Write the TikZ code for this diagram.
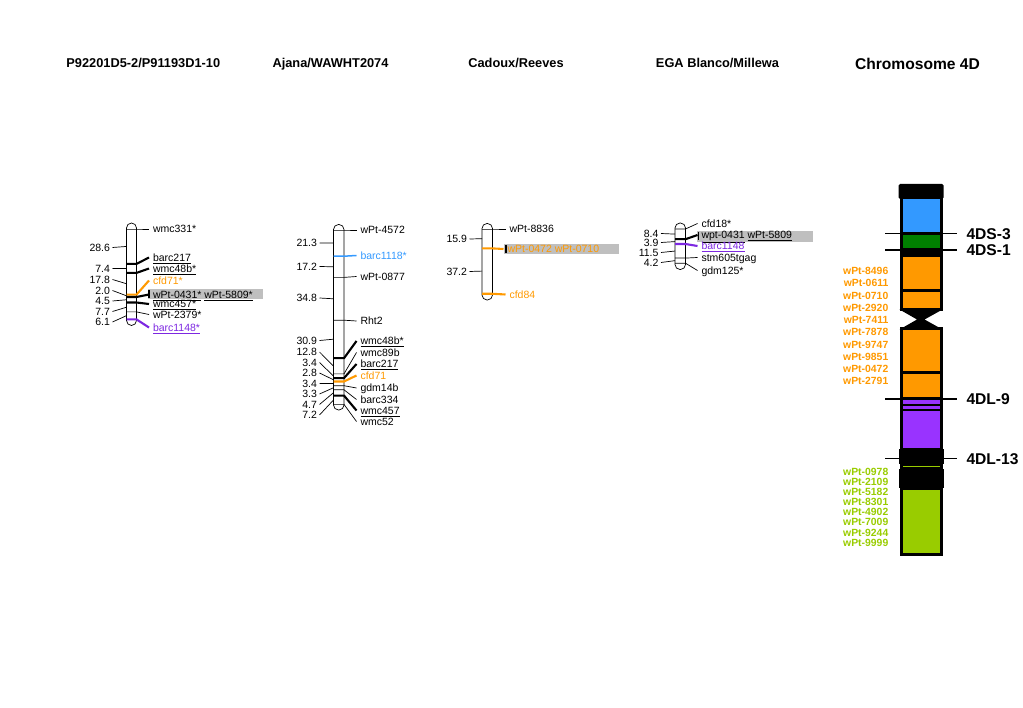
\documentclass[tikz,border=0pt]{standalone}
\usepackage{fontspec}
\setmainfont{Liberation Sans}
\usetikzlibrary{calc}
\definecolor{cOrange}{RGB}{255,153,0}
\definecolor{cBlue}{RGB}{51,153,255}
\definecolor{cGreen}{RGB}{0,128,0}
\definecolor{cPurple}{RGB}{153,51,255}
\definecolor{cLime}{RGB}{153,204,0}
\definecolor{mViolet}{RGB}{125,40,225}
\definecolor{boxgray}{RGB}{191,191,191}
\tikzset{
  lnk/.style={line width=0.7pt},
  mid/.style={line width=1.5pt},
  thk/.style={line width=2.1pt},
  mk/.style={anchor=west, inner sep=0pt, outer xsep=4pt, text height=7.5pt, text depth=0pt, font=\fontsize{10.5}{12}\selectfont},
  iv/.style={anchor=east, inner sep=0pt, outer xsep=2.5pt, text height=7.5pt, text depth=0pt, font=\fontsize{10.5}{12}\selectfont},
  hd/.style={anchor=base, inner sep=0pt, font=\fontsize{12.8}{15}\selectfont\bfseries},
  cl/.style={anchor=east, inner sep=0pt, text height=7.5pt, text depth=0pt, font=\fontsize{10.4}{12}\selectfont\bfseries},
  bin/.style={anchor=west, inner sep=0pt, outer xsep=10pt, text height=11.2pt, text depth=0pt, font=\fontsize{15.6}{18}\selectfont\bfseries},
  arm/.style={draw=black, line width=3pt}
}
% marker: line across the bar, link to its name
\def\locus[#1]#2(#3)(#4)#5{%
  \coordinate (#2-l) at (\barL,#3);
  \coordinate (#2-r) at (\barR,#3);
  \node[mk,#1] (#2) at (\labX,#4) {#5};
  \draw[#1] (#2-l) -- (#2-r) -- (#2.west);}
% interval in cM, tick to the middle of the interval
\def\cmgap#1(#2)(#3)#4{%
  \coordinate (#1-g) at (\barL,#2);
  \node[iv] (#1) at (\numX,#3) {#4};
  \draw[lnk] (#1.east) -- (#1-g);}

\begin{document}
\begin{tikzpicture}[x=1pt,y=-1pt]
			\useasboundingbox (0,0) rectangle (1023,708);
			%%%%% HEADERS %%%%%
			\node[hd] (h1) at (143.3,67.5) {P92201D5-2/P91193D1-10};
			\node[hd] (h2) at (330.5,67.5) {Ajana/WAWHT2074};
			\node[hd] (h3) at (516,67.5) {Cadoux/Reeves};
			\node[hd] (h4) at (717.5,68) {EGA Blanco/Millewa};
			\node[hd, font=\fontsize{15.6}{18}\selectfont\bfseries] (h5) at (917.5,70) {Chromosome 4D};
			
			%%%%% P92201D5-2/P91193D1-10 %%%%%
			\def\barL{126.5}\def\barR{136.5}\def\labX{149}\def\numX{112.5}
			\draw[lnk, fill=white, rounded corners=5] (\barL,223) rectangle (\barR,325.5);
			\cmgap{A1}(246.45)(247.5){28.6}
			\cmgap{A2}(268.4)(268.5){7.4}
			\cmgap{A3}(283.75)(279.5){17.8}
			\cmgap{A4}(295.8)(290.5){2.0}
			\cmgap{A5}(299.75)(301){4.5}
			\cmgap{A6}(307.2)(311.5){7.7}
			\cmgap{A7}(315.65)(322){6.1}
			\locus[lnk]{A-wmc331}(229)(229){wmc331*}
			\locus[thk]{A-barc217}(263.9)(257.5){\underline{barc217}}
			\locus[thk]{A-wmc48b}(272.9)(268.5){\underline{wmc48b*}}
			\locus[thk,cOrange]{A-cfd71}(294.6)(280.5){cfd71*}
			\fill[boxgray] (147.5,289.5) rectangle (263,299.5);
			\draw[line width=1.2] (149,290.5) -- (149,298);
			\locus[thk]{A-wPt0431}(297)(294.5){\underline{wPt-0431*} \underline{wPt-5809*}}
			\locus[thk]{A-wmc457}(302.5)(304){\underline{wmc457*}}
			\locus[lnk]{A-wPt2379}(311.9)(314.5){wPt-2379*}
			\locus[thk,mViolet]{A-barc1148}(319.4)(327.5){\underline{barc1148*}}
			
			%%%%% Ajana/WAWHT2074 %%%%%
			\def\barL{333.5}\def\barR{344}\def\labX{356.5}\def\numX{319.5}
			\draw[lnk, fill=white, rounded corners=5] (\barL,224.5) rectangle (\barR,410);
			\cmgap{B1}(243.1)(243){21.3}
			\cmgap{B2}(266.8)(266.5){17.2}
			\cmgap{B3}(298.8)(298){34.8}
			\cmgap{B4}(339.2)(340.5){30.9}
			\cmgap{B5}(366.05)(352){12.8}
			\cmgap{B6}(376.0)(362.5){3.4}
			\cmgap{B7}(379.8)(373){2.8}
			\cmgap{B8}(383.6)(383.5){3.4}
			\cmgap{B9}(387.75)(394){3.3}
			\cmgap{B10}(392.7)(404.5){4.7}
			\cmgap{B11}(400.0)(415){7.2}
			\locus[lnk]{B-wPt4572}(230)(230){wPt-4572}
			\locus[mid,cBlue]{B-barc1118}(256.2)(255.5){barc1118*}
			\locus[lnk]{B-wPt0877}(277.4)(276.5){wPt-0877}
			\locus[lnk]{B-Rht2}(320.2)(321){Rht2}
			\locus[thk]{B-wmc48b}(358.2)(341){\underline{wmc48b*}}
			\locus[lnk]{B-wmc89b}(373.9)(352.5){wmc89b}
			\locus[thk]{B-barc217}(378.1)(364){\underline{barc217}}
			\locus[thk,cOrange]{B-cfd71}(381.5)(375.5){cfd71}
			\locus[lnk]{B-gdm14b}(385.7)(388){gdm14b}
			\locus[lnk]{B-barc334}(389.8)(399.5){barc334}
			\locus[thk]{B-wmc457}(395.6)(410.5){\underline{wmc457}}
			\locus[lnk]{B-wmc52}(404.4)(421.5){wmc52}
			
			%%%%% Cadoux/Reeves %%%%%
			\def\barL{482}\def\barR{492.5}\def\labX{505.5}\def\numX{469.5}
			\draw[lnk, fill=white, rounded corners=5] (\barL,223.5) rectangle (\barR,300);
			\cmgap{C1}(238.7)(239){15.9}
			\cmgap{C2}(271.1)(271.5){37.2}
			\locus[lnk]{C-wPt8836}(229)(229){wPt-8836}
			\fill[boxgray] (504,244) rectangle (619,254.5);
			\draw[line width=1.2] (506,245) -- (506,253);
			\def\labX{503.5}
			\locus[thk,cOrange]{C-wPt0472}(248.4)(249){wPt-0472 wPt-0710}
			\def\labX{505.5}
			\locus[thk,cOrange]{C-cfd84}(293.8)(294.5){cfd84}
			
			%%%%% EGA Blanco/Millewa %%%%%
			\def\barL{675}\def\barR{685.5}\def\labX{697.5}\def\numX{661}
			\draw[lnk, fill=white, rounded corners=5] (\barL,223) rectangle (\barR,269.5);
			\cmgap{D1}(234.1)(233.5){8.4}
			\cmgap{D2}(241.6)(242.5){3.9}
			\cmgap{D3}(251.05)(252.5){11.5}
			\cmgap{D4}(260.65)(262.5){4.2}
			\locus[lnk]{D-cfd18}(229)(223.5){cfd18*}
			\fill[boxgray] (696.5,231.5) rectangle (812.5,242);
			\draw[line width=1.2] (698.5,232.5) -- (698.5,240.5);
			\locus[thk]{D-wpt0431}(239.2)(235){\underline{wpt-0431} \underline{wPt-5809}}
			\locus[thk,mViolet]{D-barc1148}(244)(246){\underline{barc1148}}
			\locus[lnk]{D-stm605}(258.1)(257.5){stm605tgag}
			\locus[lnk]{D-gdm125}(263.2)(270.5){gdm125*}
			
			%%%%% CHROMOSOME 4D %%%%%
			\fill[rounded corners=1.5] (898.5,184) rectangle (943.5,199);
			\filldraw[arm, fill=cBlue] (901,198) rectangle (941,234);
			\filldraw[arm, fill=cGreen] (901,234) rectangle (941,250);
			\fill (899.5,249) rectangle (942.5,256);
			\filldraw[arm, fill=cOrange] (901,256) rectangle (941,291);
			\filldraw[arm, fill=cOrange] (901,291) rectangle (941,310);
			\fill (899.5,309.5) -- (942.5,309.5) -- (924.5,319.5) -- (942.5,329.5) -- (899.5,329.5) -- (917,319.5) -- cycle;
			\filldraw[arm, fill=cOrange] (901,329) rectangle (941,372.5);
			\filldraw[arm, fill=cOrange] (901,372.5) rectangle (941,399);
			\filldraw[arm, fill=cPurple] (901,399) rectangle (941,449.5);
			\draw[line width=2] (901,405) -- (941,405);
			\draw[line width=2.5] (901,410) -- (941,410);
			\fill (898.5,449.5) rectangle (943.5,464);
			\filldraw[arm, fill=cLime] (901,464) rectangle (941,468.5);
			\fill (898.5,468.5) rectangle (943.5,488);
			\filldraw[arm, fill=cLime] (901,488) rectangle (941,554.5);
			
			% deletion bins
			\coordinate (t1) at (885,233.5);
			\coordinate (t2) at (885,250);
			\coordinate (t3) at (885,399);
			\coordinate (t4) at (885,458.5);
			\node[bin] (k1) at (956.5,233.5) {4DS-3};
			\node[bin] (k2) at (956.5,250) {4DS-1};
			\node[bin] (k3) at (956.5,399) {4DL-9};
			\node[bin] (k4) at (956.5,458.5) {4DL-13};
			\draw[line width=1.8] (t1) -- (k1.west);
			\draw[line width=1.8] (t2) -- (k2.west);
			\draw[line width=1.8] (t3) -- (k3.west);
			\draw[line width=1.8] (t4) -- (k4.west);
			
			% mapped DArT markers
			\foreach \t [count=\i from 0] in {wPt-8496,wPt-0611,wPt-0710,wPt-2920,wPt-7411,wPt-7878,wPt-9747,wPt-9851,wPt-0472,wPt-2791}
				\node[cl, cOrange] (o\i) at (888.5,{271+12.22*\i}) {\t};
			\foreach \t [count=\i from 0] in {wPt-0978,wPt-2109,wPt-5182,wPt-8301,wPt-4902,wPt-7009,wPt-9244,wPt-9999}
				\node[cl, cLime] (g\i) at (888.5,{471.7+10.1*\i}) {\t};
			%%%%% END %%%%%
\end{tikzpicture}
\end{document}
